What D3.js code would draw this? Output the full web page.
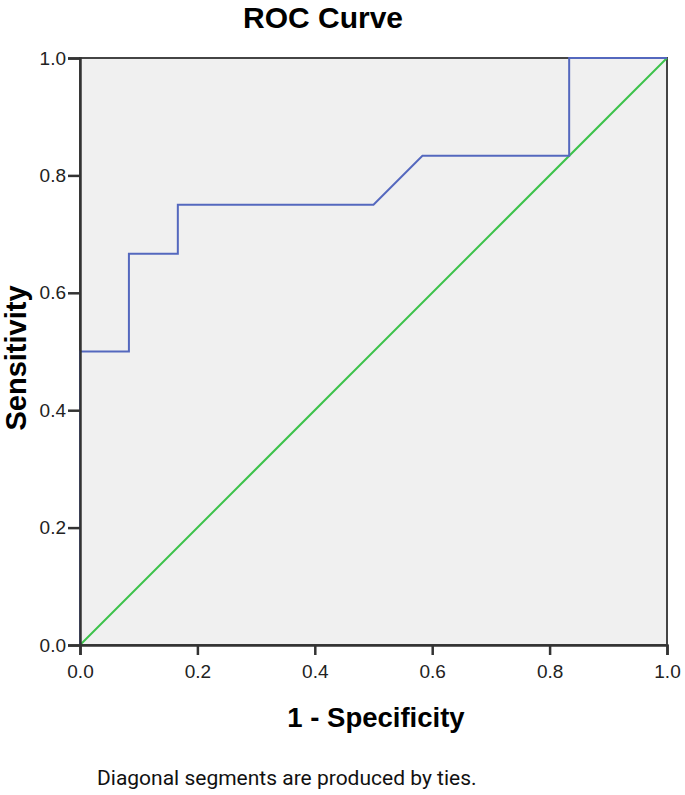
<!DOCTYPE html>
<html>
<head>
<meta charset="utf-8">
<script src="https://cdnjs.cloudflare.com/ajax/libs/d3/7.8.5/d3.min.js"></script>
<style>
body { margin: 0; background: #fff; }
svg { display: block; font-family: "Liberation Sans", Arial, sans-serif; }
</style>
</head>
<body>
<div id="chart"></div>
<script>
// ROC curve points (1 - specificity, sensitivity)
let fpr = [0, 0, 1/12, 1/12, 2/12, 2/12, 6/12, 7/12, 10/12, 10/12, 1];
let tpr = [0, 0.5, 0.5, 8/12, 8/12, 0.75, 0.75, 10/12, 10/12, 1, 1];
let refLine = [0, 1];
let ticks = [0, 0.2, 0.4, 0.6, 0.8, 1.0];

let dim = { width: 685, height: 795 };
let plot = { left: 80, top: 58, right: 667, bottom: 645 };

let svg = d3.select('#chart').append('svg')
    .attr('width', dim.width)
    .attr('height', dim.height);

let x = d3.scaleLinear().domain([0, 1]).range([plot.left, plot.right]);
let y = d3.scaleLinear().domain([0, 1]).range([plot.bottom, plot.top]);

svg.append('rect')
    .attr('x', plot.left).attr('y', plot.top)
    .attr('width', plot.right - plot.left)
    .attr('height', plot.bottom - plot.top)
    .attr('fill', '#f0f0f0')
    .attr('stroke', '#444')
    .attr('stroke-width', 2);

// reference diagonal
svg.append('path')
    .datum(refLine)
    .attr('d', d3.line().x(d => x(d)).y(d => y(d)))
    .attr('fill', 'none')
    .attr('stroke', '#3cc24a')
    .attr('stroke-width', 2);

// roc curve
svg.append('path')
    .datum(fpr.map((d, i) => [d, tpr[i]]))
    .attr('d', d3.line().x(d => x(d[0])).y(d => y(d[1])))
    .attr('fill', 'none')
    .attr('stroke', '#5468be')
    .attr('stroke-width', 2);

let xAxis = svg.append('g')
    .attr('transform', 'translate(0,' + plot.bottom + ')')
    .call(d3.axisBottom(x).tickValues(ticks).tickFormat(d3.format('.1f')).tickSize(10).tickPadding(10));

let yAxis = svg.append('g')
    .attr('transform', 'translate(' + plot.left + ',0)')
    .call(d3.axisLeft(y).tickValues(ticks).tickFormat(d3.format('.1f')).tickSize(12).tickPadding(2));

[xAxis, yAxis].forEach(function(a){
    a.select('.domain').attr('stroke', '#333').attr('stroke-width', 2.5);
    a.selectAll('.tick line').attr('stroke', '#333').attr('stroke-width', 2.5);
    a.selectAll('.tick text')
        .attr('font-family', '"Liberation Sans", Arial, sans-serif')
        .attr('font-size', 19)
        .attr('fill', '#222');
});

svg.append('text')
    .attr('x', 323).attr('y', 28)
    .attr('text-anchor', 'middle')
    .attr('font-size', 30).attr('font-weight', 'bold')
    .text('ROC Curve');

svg.append('text')
    .attr('x', 376).attr('y', 727)
    .attr('text-anchor', 'middle')
    .attr('font-size', 27.5).attr('font-weight', 'bold')
    .text('1 - Specificity');

svg.append('text')
    .attr('transform', 'translate(26,358) rotate(-90)')
    .attr('text-anchor', 'middle')
    .attr('font-size', 29).attr('font-weight', 'bold')
    .text('Sensitivity');

svg.append('text')
    .attr('x', 97).attr('y', 785)
    .attr('font-family', 'Roboto, sans-serif')
    .attr('font-size', 21)
    .attr('fill', '#111')
    .text('Diagonal segments are produced by ties.');
</script>
</body>
</html>
